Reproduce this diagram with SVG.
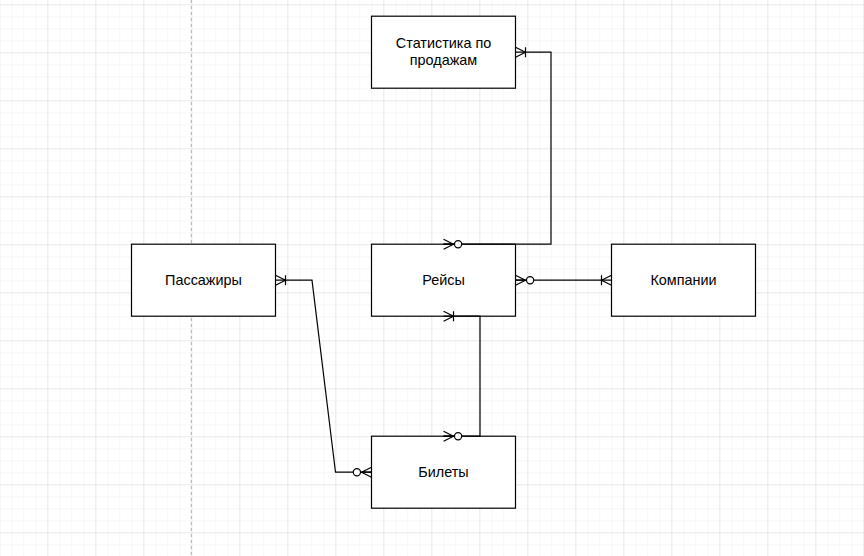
<svg xmlns="http://www.w3.org/2000/svg" width="864" height="556" viewBox="0 0 864 556">
<style>
.box{fill:#fff;stroke:#000;stroke-width:1.2}
.lbl{font-family:"Liberation Sans",Arial,sans-serif;font-size:14.4px;fill:#000;text-anchor:middle}
.edge{fill:none;stroke:#000;stroke-width:1.2}
.sym{fill:none;stroke:#000;stroke-width:1.2}
.ring{fill:#fff;stroke:#000;stroke-width:1.2}
</style>
<defs>
<pattern id="minor" patternUnits="userSpaceOnUse" x="-0.7" y="4.3" width="12" height="12">
<path d="M0,0H12M0,0V12" fill="none" stroke="#f0f0f0" stroke-width="1"/>
</pattern>
<pattern id="major" patternUnits="userSpaceOnUse" x="-0.7" y="4.3" width="48" height="48">
<path d="M0,0H48M0,0V48" fill="none" stroke="#dedede" stroke-width="1"/>
</pattern>
<g id="zeroMany">
<path class="sym" d="M0,-5L10,0L0,5M0,0H11"/>
<circle class="ring" cx="14.6" cy="0" r="3.6"/>
</g>
<g id="oneMany">
<path class="sym" d="M0,-5L10,0L0,5M10,-5V5"/>
</g>
</defs>
<rect width="864" height="556" fill="#fff"/>
<rect width="864" height="556" fill="url(#minor)"/>
<rect width="864" height="556" fill="url(#major)"/>
<path d="M191.3,0V556" stroke="#b0b0b0" stroke-width="1" stroke-dasharray="3,3" fill="none"/>
<g id="nodes">
<g id="stat"><rect class="box" x="371.5" y="16.2" width="144" height="72"/><text class="lbl" x="443.5" y="47.5">Статистика по</text><text class="lbl" x="443.5" y="64.5">продажам</text></g>
<g id="passengers"><rect class="box" x="131.5" y="244.2" width="144" height="72"/><text class="lbl" x="203.5" y="285.3">Пассажиры</text></g>
<g id="flights"><rect class="box" x="371.5" y="244.2" width="144" height="72"/><text class="lbl" x="443.5" y="285.3">Рейсы</text></g>
<g id="companies"><rect class="box" x="611.5" y="244.2" width="144" height="72"/><text class="lbl" x="683.5" y="285.3">Компании</text></g>
<g id="tickets"><rect class="box" x="371.5" y="436.2" width="144" height="72"/><text class="lbl" x="443.5" y="477.3">Билеты</text></g>
</g>
<g id="connectors">
<path class="edge" d="M443.5,244.2H551V52.2H515.5"/>
<use href="#zeroMany" transform="translate(443.5,244.2)"/>
<use href="#oneMany" transform="translate(515.5,52.2)"/>
<path class="edge" d="M515.5,280.2H611.5"/>
<use href="#zeroMany" transform="translate(515.5,280.2)"/>
<use href="#oneMany" transform="translate(611.5,280.2) rotate(180)"/>
<path class="edge" d="M275.5,280.2H312L335.5,472.2H371.5"/>
<use href="#oneMany" transform="translate(275.5,280.2)"/>
<use href="#zeroMany" transform="translate(371.5,472.2) rotate(180)"/>
<path class="edge" d="M443.5,316.2H480V436.2H443.5"/>
<use href="#oneMany" transform="translate(443.5,316.2)"/>
<use href="#zeroMany" transform="translate(443.5,436.2)"/>
</g>
</svg>
